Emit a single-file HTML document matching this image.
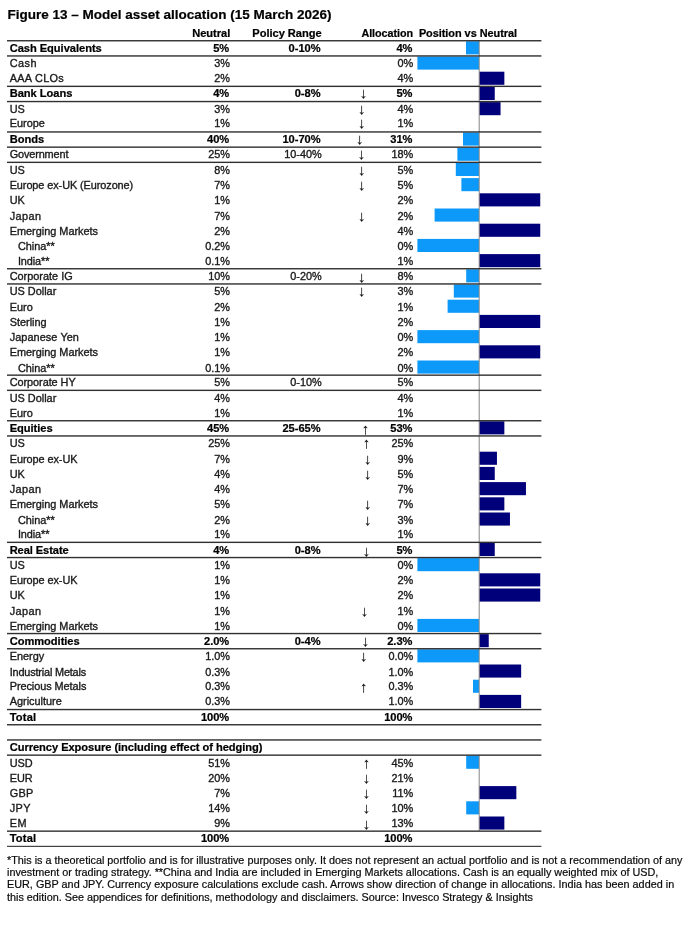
<!DOCTYPE html><html><head><meta charset="utf-8"><title>Figure 13 – Model asset allocation</title><style>
html,body{margin:0;padding:0;background:#fff;}
body{width:699px;height:931px;position:relative;overflow:hidden;filter:blur(0.6px);font-family:"Liberation Sans",sans-serif;color:#000;}
.t{position:absolute;white-space:nowrap;font-size:10.9px;line-height:15.2px;height:15.2px;color:#1a1a1a;-webkit-text-stroke:0.35px #1a1a1a;}
.b{font-weight:bold;font-size:11.1px;color:#000;-webkit-text-stroke:0.22px #000;letter-spacing:-0.03px;}
.r{text-align:right;}
.ar{position:absolute;width:8px;height:16px;font-size:15px;line-height:16px;text-align:center;color:#111;-webkit-text-stroke:0.15px #111;white-space:nowrap;}
.ab{font-weight:bold;}
svg.g{position:absolute;left:0;top:0;}
.title{position:absolute;left:7.4px;top:6.8px;font-size:13.5px;font-weight:bold;-webkit-text-stroke:0.2px #000;line-height:16px;white-space:nowrap;}
.fn{position:absolute;left:7px;font-size:10.82px;line-height:12px;height:12px;white-space:nowrap;color:#0a0a0a;-webkit-text-stroke:0.2px #0a0a0a;}
</style></head><body>
<div class="title">Figure 13 – Model asset allocation (15 March 2026)</div>
<div class="t b r" style="left:130.2px;width:100px;top:25.5px">Neutral</div>
<div class="t b r" style="left:221.6px;width:100px;top:25.5px">Policy Range</div>
<div class="t b r" style="left:313.1px;width:100px;top:25.5px;font-size:10.75px">Allocation</div>
<div class="t b" style="left:418.9px;top:25.5px;font-size:10.9px">Position vs Neutral</div>
<svg class="g" width="699" height="931" viewBox="0 0 699 931">
<rect x="466.0" y="41.30" width="13.0" height="13.1" fill="#0d99fa"/>
<rect x="417.4" y="56.50" width="61.6" height="13.1" fill="#0d99fa"/>
<rect x="479.25" y="71.70" width="25.1" height="13.1" fill="#00007a"/>
<rect x="479.25" y="86.90" width="15.5" height="13.1" fill="#00007a"/>
<rect x="479.25" y="102.10" width="21.3" height="13.1" fill="#00007a"/>
<rect x="463.0" y="132.50" width="16.0" height="13.1" fill="#0d99fa"/>
<rect x="457.4" y="147.70" width="21.6" height="13.1" fill="#0d99fa"/>
<rect x="455.8" y="162.90" width="23.2" height="13.1" fill="#0d99fa"/>
<rect x="461.4" y="178.10" width="17.6" height="13.1" fill="#0d99fa"/>
<rect x="479.25" y="193.30" width="61.0" height="13.1" fill="#00007a"/>
<rect x="434.6" y="208.50" width="44.4" height="13.1" fill="#0d99fa"/>
<rect x="479.25" y="223.70" width="61.0" height="13.1" fill="#00007a"/>
<rect x="417.4" y="238.90" width="61.6" height="13.1" fill="#0d99fa"/>
<rect x="479.25" y="254.10" width="61.0" height="13.1" fill="#00007a"/>
<rect x="466.2" y="269.30" width="12.8" height="13.1" fill="#0d99fa"/>
<rect x="453.8" y="284.50" width="25.2" height="13.1" fill="#0d99fa"/>
<rect x="447.6" y="299.70" width="31.4" height="13.1" fill="#0d99fa"/>
<rect x="479.25" y="314.90" width="61.0" height="13.1" fill="#00007a"/>
<rect x="417.4" y="330.10" width="61.6" height="13.1" fill="#0d99fa"/>
<rect x="479.25" y="345.30" width="61.0" height="13.1" fill="#00007a"/>
<rect x="417.4" y="360.50" width="61.6" height="13.1" fill="#0d99fa"/>
<rect x="479.25" y="421.30" width="25.1" height="13.1" fill="#00007a"/>
<rect x="479.25" y="451.70" width="17.7" height="13.1" fill="#00007a"/>
<rect x="479.25" y="466.90" width="15.5" height="13.1" fill="#00007a"/>
<rect x="479.25" y="482.10" width="46.7" height="13.1" fill="#00007a"/>
<rect x="479.25" y="497.30" width="25.1" height="13.1" fill="#00007a"/>
<rect x="479.25" y="512.50" width="30.7" height="13.1" fill="#00007a"/>
<rect x="479.25" y="542.90" width="15.5" height="13.1" fill="#00007a"/>
<rect x="417.4" y="558.10" width="61.6" height="13.1" fill="#0d99fa"/>
<rect x="479.25" y="573.30" width="61.0" height="13.1" fill="#00007a"/>
<rect x="479.25" y="588.50" width="61.0" height="13.1" fill="#00007a"/>
<rect x="417.4" y="618.90" width="61.6" height="13.1" fill="#0d99fa"/>
<rect x="479.25" y="634.10" width="9.5" height="13.1" fill="#00007a"/>
<rect x="417.4" y="649.30" width="61.6" height="13.1" fill="#0d99fa"/>
<rect x="479.25" y="664.50" width="41.9" height="13.1" fill="#00007a"/>
<rect x="473.0" y="679.70" width="6.0" height="13.1" fill="#0d99fa"/>
<rect x="479.25" y="694.90" width="41.9" height="13.1" fill="#00007a"/>
<rect x="466.2" y="755.70" width="12.8" height="13.1" fill="#0d99fa"/>
<rect x="479.25" y="786.10" width="37.1" height="13.1" fill="#00007a"/>
<rect x="466.2" y="801.30" width="12.8" height="13.1" fill="#0d99fa"/>
<rect x="479.25" y="816.50" width="25.1" height="13.1" fill="#00007a"/>
<rect x="478.7" y="40.5" width="1" height="668.8" fill="#858585"/>
<rect x="478.7" y="754.9" width="1" height="76.0" fill="#858585"/>
<rect x="7.0" y="40.05" width="534.4" height="1.4" fill="#303030"/>
<rect x="7.0" y="55.25" width="534.4" height="1.4" fill="#303030"/>
<rect x="7.0" y="85.65" width="534.4" height="1.4" fill="#303030"/>
<rect x="7.0" y="100.85" width="534.4" height="1.4" fill="#303030"/>
<rect x="7.0" y="131.25" width="534.4" height="1.4" fill="#303030"/>
<rect x="7.0" y="146.45" width="534.4" height="1.4" fill="#303030"/>
<rect x="7.0" y="161.65" width="534.4" height="1.4" fill="#303030"/>
<rect x="7.0" y="268.05" width="534.4" height="1.4" fill="#303030"/>
<rect x="7.0" y="283.25" width="534.4" height="1.4" fill="#303030"/>
<rect x="7.0" y="374.45" width="534.4" height="1.4" fill="#303030"/>
<rect x="7.0" y="389.65" width="534.4" height="1.4" fill="#303030"/>
<rect x="7.0" y="420.05" width="534.4" height="1.4" fill="#303030"/>
<rect x="7.0" y="435.25" width="534.4" height="1.4" fill="#303030"/>
<rect x="7.0" y="541.65" width="534.4" height="1.4" fill="#303030"/>
<rect x="7.0" y="556.85" width="534.4" height="1.4" fill="#303030"/>
<rect x="7.0" y="632.85" width="534.4" height="1.4" fill="#303030"/>
<rect x="7.0" y="648.05" width="534.4" height="1.4" fill="#303030"/>
<rect x="7.0" y="708.85" width="534.4" height="1.4" fill="#303030"/>
<rect x="7.0" y="724.05" width="534.4" height="1.4" fill="#303030"/>
<rect x="7.0" y="739.25" width="534.4" height="1.4" fill="#303030"/>
<rect x="7.0" y="754.45" width="534.4" height="1.4" fill="#303030"/>
<rect x="7.0" y="830.45" width="534.4" height="1.4" fill="#303030"/>
<rect x="7.0" y="845.80" width="534.4" height="1.1" fill="#303030"/>
</svg>
<div class="ar ab" style="left:359.5px;top:85px">↓</div>
<div class="ar" style="left:357.7px;top:101px">↓</div>
<div class="ar" style="left:357.7px;top:115px">↓</div>
<div class="ar ab" style="left:355.8px;top:131px">↓</div>
<div class="ar" style="left:357.5px;top:146px">↓</div>
<div class="ar" style="left:357.7px;top:162px">↓</div>
<div class="ar" style="left:357.7px;top:177px">↓</div>
<div class="ar" style="left:357.7px;top:208px">↓</div>
<div class="ar" style="left:357.7px;top:269px">↓</div>
<div class="ar" style="left:357.7px;top:283px">↓</div>
<div class="ar ab" style="left:361.4px;top:421px">↑</div>
<div class="ar" style="left:362.5px;top:435px">↑</div>
<div class="ar" style="left:363.7px;top:451px">↓</div>
<div class="ar" style="left:363.7px;top:466px">↓</div>
<div class="ar" style="left:363.7px;top:496px">↓</div>
<div class="ar" style="left:363.7px;top:512px">↓</div>
<div class="ar ab" style="left:362.5px;top:543px">↓</div>
<div class="ar" style="left:360.6px;top:603px">↓</div>
<div class="ar ab" style="left:361.4px;top:633px">↓</div>
<div class="ar" style="left:359.8px;top:648px">↓</div>
<div class="ar" style="left:359.8px;top:679px">↑</div>
<div class="ar" style="left:362.5px;top:755px">↑</div>
<div class="ar" style="left:362.5px;top:770px">↓</div>
<div class="ar" style="left:362.5px;top:785px">↓</div>
<div class="ar" style="left:362.5px;top:800px">↓</div>
<div class="ar" style="left:362.5px;top:816px">↓</div>
<div class="t b" style="left:9.7px;top:41.0px">Cash Equivalents</div>
<div class="t b r" style="left:130px;width:99.2px;top:41.0px">5%</div>
<div class="t b r" style="left:221px;width:99.5px;top:41.0px">0-10%</div>
<div class="t b r" style="left:313px;width:99.4px;top:41.0px">4%</div>
<div class="t" style="left:9.7px;top:56.0px;letter-spacing:0.467px">Cash</div>
<div class="t r" style="left:130px;width:100px;top:56.0px">3%</div>
<div class="t r" style="left:313px;width:100.3px;top:56.0px">0%</div>
<div class="t" style="left:9.7px;top:71.0px;letter-spacing:0.286px">AAA CLOs</div>
<div class="t r" style="left:130px;width:100px;top:71.0px">2%</div>
<div class="t r" style="left:313px;width:100.3px;top:71.0px">4%</div>
<div class="t b" style="left:9.7px;top:86.0px">Bank Loans</div>
<div class="t b r" style="left:130px;width:99.2px;top:86.0px">4%</div>
<div class="t b r" style="left:221px;width:99.5px;top:86.0px">0-8%</div>
<div class="t b r" style="left:313px;width:99.4px;top:86.0px">5%</div>
<div class="t" style="left:9.7px;top:102.0px">US</div>
<div class="t r" style="left:130px;width:100px;top:102.0px">3%</div>
<div class="t r" style="left:313px;width:100.3px;top:102.0px">4%</div>
<div class="t" style="left:9.7px;top:116.0px">Europe</div>
<div class="t r" style="left:130px;width:100px;top:116.0px">1%</div>
<div class="t r" style="left:313px;width:100.3px;top:116.0px">1%</div>
<div class="t b" style="left:9.7px;top:132.0px">Bonds</div>
<div class="t b r" style="left:130px;width:99.2px;top:132.0px">40%</div>
<div class="t b r" style="left:221px;width:99.5px;top:132.0px">10-70%</div>
<div class="t b r" style="left:313px;width:99.4px;top:132.0px">31%</div>
<div class="t" style="left:9.7px;top:147.0px;letter-spacing:-0.133px">Government</div>
<div class="t r" style="left:130px;width:100px;top:147.0px">25%</div>
<div class="t r" style="left:221px;width:100.8px;top:147.0px">10-40%</div>
<div class="t r" style="left:313px;width:100.3px;top:147.0px">18%</div>
<div class="t" style="left:9.7px;top:163.0px">US</div>
<div class="t r" style="left:130px;width:100px;top:163.0px">8%</div>
<div class="t r" style="left:313px;width:100.3px;top:163.0px">5%</div>
<div class="t" style="left:9.7px;top:178.0px;letter-spacing:-0.082px">Europe ex-UK (Eurozone)</div>
<div class="t r" style="left:130px;width:100px;top:178.0px">7%</div>
<div class="t r" style="left:313px;width:100.3px;top:178.0px">5%</div>
<div class="t" style="left:9.7px;top:193.0px">UK</div>
<div class="t r" style="left:130px;width:100px;top:193.0px">1%</div>
<div class="t r" style="left:313px;width:100.3px;top:193.0px">2%</div>
<div class="t" style="left:9.7px;top:209.0px;letter-spacing:0.400px">Japan</div>
<div class="t r" style="left:130px;width:100px;top:209.0px">7%</div>
<div class="t r" style="left:313px;width:100.3px;top:209.0px">2%</div>
<div class="t" style="left:9.7px;top:224.0px">Emerging Markets</div>
<div class="t r" style="left:130px;width:100px;top:224.0px">2%</div>
<div class="t r" style="left:313px;width:100.3px;top:224.0px">4%</div>
<div class="t" style="left:17.9px;top:239.0px">China**</div>
<div class="t r" style="left:130px;width:100px;top:239.0px">0.2%</div>
<div class="t r" style="left:313px;width:100.3px;top:239.0px">0%</div>
<div class="t" style="left:17.9px;top:254.0px;letter-spacing:-0.100px">India**</div>
<div class="t r" style="left:130px;width:100px;top:254.0px">0.1%</div>
<div class="t r" style="left:313px;width:100.3px;top:254.0px">1%</div>
<div class="t" style="left:9.7px;top:269.0px">Corporate IG</div>
<div class="t r" style="left:130px;width:100px;top:269.0px">10%</div>
<div class="t r" style="left:221px;width:100.8px;top:269.0px">0-20%</div>
<div class="t r" style="left:313px;width:100.3px;top:269.0px">8%</div>
<div class="t" style="left:9.7px;top:284.0px">US Dollar</div>
<div class="t r" style="left:130px;width:100px;top:284.0px">5%</div>
<div class="t r" style="left:313px;width:100.3px;top:284.0px">3%</div>
<div class="t" style="left:9.7px;top:300.0px">Euro</div>
<div class="t r" style="left:130px;width:100px;top:300.0px">2%</div>
<div class="t r" style="left:313px;width:100.3px;top:300.0px">1%</div>
<div class="t" style="left:9.7px;top:315.0px">Sterling</div>
<div class="t r" style="left:130px;width:100px;top:315.0px">1%</div>
<div class="t r" style="left:313px;width:100.3px;top:315.0px">2%</div>
<div class="t" style="left:9.7px;top:330.0px;letter-spacing:0.073px">Japanese Yen</div>
<div class="t r" style="left:130px;width:100px;top:330.0px">1%</div>
<div class="t r" style="left:313px;width:100.3px;top:330.0px">0%</div>
<div class="t" style="left:9.7px;top:345.0px">Emerging Markets</div>
<div class="t r" style="left:130px;width:100px;top:345.0px">1%</div>
<div class="t r" style="left:313px;width:100.3px;top:345.0px">2%</div>
<div class="t" style="left:17.9px;top:361.0px">China**</div>
<div class="t r" style="left:130px;width:100px;top:361.0px">0.1%</div>
<div class="t r" style="left:313px;width:100.3px;top:361.0px">0%</div>
<div class="t" style="left:9.7px;top:375.0px;letter-spacing:-0.055px">Corporate HY</div>
<div class="t r" style="left:130px;width:100px;top:375.0px">5%</div>
<div class="t r" style="left:221px;width:100.8px;top:375.0px">0-10%</div>
<div class="t r" style="left:313px;width:100.3px;top:375.0px">5%</div>
<div class="t" style="left:9.7px;top:391.0px">US Dollar</div>
<div class="t r" style="left:130px;width:100px;top:391.0px">4%</div>
<div class="t r" style="left:313px;width:100.3px;top:391.0px">4%</div>
<div class="t" style="left:9.7px;top:406.0px">Euro</div>
<div class="t r" style="left:130px;width:100px;top:406.0px">1%</div>
<div class="t r" style="left:313px;width:100.3px;top:406.0px">1%</div>
<div class="t b" style="left:9.7px;top:421.0px">Equities</div>
<div class="t b r" style="left:130px;width:99.2px;top:421.0px">45%</div>
<div class="t b r" style="left:221px;width:99.5px;top:421.0px">25-65%</div>
<div class="t b r" style="left:313px;width:99.4px;top:421.0px">53%</div>
<div class="t" style="left:9.7px;top:436.0px">US</div>
<div class="t r" style="left:130px;width:100px;top:436.0px">25%</div>
<div class="t r" style="left:313px;width:100.3px;top:436.0px">25%</div>
<div class="t" style="left:9.7px;top:452.0px;letter-spacing:-0.055px">Europe ex-UK</div>
<div class="t r" style="left:130px;width:100px;top:452.0px">7%</div>
<div class="t r" style="left:313px;width:100.3px;top:452.0px">9%</div>
<div class="t" style="left:9.7px;top:467.0px">UK</div>
<div class="t r" style="left:130px;width:100px;top:467.0px">4%</div>
<div class="t r" style="left:313px;width:100.3px;top:467.0px">5%</div>
<div class="t" style="left:9.7px;top:482.0px;letter-spacing:0.400px">Japan</div>
<div class="t r" style="left:130px;width:100px;top:482.0px">4%</div>
<div class="t r" style="left:313px;width:100.3px;top:482.0px">7%</div>
<div class="t" style="left:9.7px;top:497.0px">Emerging Markets</div>
<div class="t r" style="left:130px;width:100px;top:497.0px">5%</div>
<div class="t r" style="left:313px;width:100.3px;top:497.0px">7%</div>
<div class="t" style="left:17.9px;top:513.0px">China**</div>
<div class="t r" style="left:130px;width:100px;top:513.0px">2%</div>
<div class="t r" style="left:313px;width:100.3px;top:513.0px">3%</div>
<div class="t" style="left:17.9px;top:527.0px;letter-spacing:-0.100px">India**</div>
<div class="t r" style="left:130px;width:100px;top:527.0px">1%</div>
<div class="t r" style="left:313px;width:100.3px;top:527.0px">1%</div>
<div class="t b" style="left:9.7px;top:543.0px;letter-spacing:-0.080px">Real Estate</div>
<div class="t b r" style="left:130px;width:99.2px;top:543.0px">4%</div>
<div class="t b r" style="left:221px;width:99.5px;top:543.0px">0-8%</div>
<div class="t b r" style="left:313px;width:99.4px;top:543.0px">5%</div>
<div class="t" style="left:9.7px;top:558.0px">US</div>
<div class="t r" style="left:130px;width:100px;top:558.0px">1%</div>
<div class="t r" style="left:313px;width:100.3px;top:558.0px">0%</div>
<div class="t" style="left:9.7px;top:573.0px;letter-spacing:-0.055px">Europe ex-UK</div>
<div class="t r" style="left:130px;width:100px;top:573.0px">1%</div>
<div class="t r" style="left:313px;width:100.3px;top:573.0px">2%</div>
<div class="t" style="left:9.7px;top:588.0px">UK</div>
<div class="t r" style="left:130px;width:100px;top:588.0px">1%</div>
<div class="t r" style="left:313px;width:100.3px;top:588.0px">2%</div>
<div class="t" style="left:9.7px;top:604.0px;letter-spacing:0.400px">Japan</div>
<div class="t r" style="left:130px;width:100px;top:604.0px">1%</div>
<div class="t r" style="left:313px;width:100.3px;top:604.0px">1%</div>
<div class="t" style="left:9.7px;top:619.0px">Emerging Markets</div>
<div class="t r" style="left:130px;width:100px;top:619.0px">1%</div>
<div class="t r" style="left:313px;width:100.3px;top:619.0px">0%</div>
<div class="t b" style="left:9.7px;top:634.0px">Commodities</div>
<div class="t b r" style="left:130px;width:99.2px;top:634.0px">2.0%</div>
<div class="t b r" style="left:221px;width:99.5px;top:634.0px">0-4%</div>
<div class="t b r" style="left:313px;width:99.4px;top:634.0px">2.3%</div>
<div class="t" style="left:9.7px;top:649.0px">Energy</div>
<div class="t r" style="left:130px;width:100px;top:649.0px">1.0%</div>
<div class="t r" style="left:313px;width:100.3px;top:649.0px">0.0%</div>
<div class="t" style="left:9.7px;top:665.0px;letter-spacing:-0.175px">Industrial Metals</div>
<div class="t r" style="left:130px;width:100px;top:665.0px">0.3%</div>
<div class="t r" style="left:313px;width:100.3px;top:665.0px">1.0%</div>
<div class="t" style="left:9.7px;top:679.0px;letter-spacing:-0.057px">Precious Metals</div>
<div class="t r" style="left:130px;width:100px;top:679.0px">0.3%</div>
<div class="t r" style="left:313px;width:100.3px;top:679.0px">0.3%</div>
<div class="t" style="left:9.7px;top:694.0px">Agriculture</div>
<div class="t r" style="left:130px;width:100px;top:694.0px">0.3%</div>
<div class="t r" style="left:313px;width:100.3px;top:694.0px">1.0%</div>
<div class="t b" style="left:9.7px;top:710.0px;letter-spacing:0.200px">Total</div>
<div class="t b r" style="left:130px;width:99.2px;top:710.0px">100%</div>
<div class="t b r" style="left:313px;width:99.4px;top:710.0px">100%</div>
<div class="t b" style="left:9.7px;top:740.0px;letter-spacing:-0.039px">Currency Exposure (including effect of hedging)</div>
<div class="t" style="left:9.7px;top:756.0px">USD</div>
<div class="t r" style="left:130px;width:100px;top:756.0px">51%</div>
<div class="t r" style="left:313px;width:100.3px;top:756.0px">45%</div>
<div class="t" style="left:9.7px;top:771.0px">EUR</div>
<div class="t r" style="left:130px;width:100px;top:771.0px">20%</div>
<div class="t r" style="left:313px;width:100.3px;top:771.0px">21%</div>
<div class="t" style="left:9.7px;top:786.0px;letter-spacing:0.300px">GBP</div>
<div class="t r" style="left:130px;width:100px;top:786.0px">7%</div>
<div class="t r" style="left:313px;width:100.3px;top:786.0px">11%</div>
<div class="t" style="left:9.7px;top:801.0px;letter-spacing:0.400px">JPY</div>
<div class="t r" style="left:130px;width:100px;top:801.0px">14%</div>
<div class="t r" style="left:313px;width:100.3px;top:801.0px">10%</div>
<div class="t" style="left:9.7px;top:816.0px;letter-spacing:0.500px">EM</div>
<div class="t r" style="left:130px;width:100px;top:816.0px">9%</div>
<div class="t r" style="left:313px;width:100.3px;top:816.0px">13%</div>
<div class="t b" style="left:9.7px;top:831.0px;letter-spacing:0.200px">Total</div>
<div class="t b r" style="left:130px;width:99.2px;top:831.0px">100%</div>
<div class="t b r" style="left:313px;width:99.4px;top:831.0px">100%</div>
<div class="fn" style="top:854.10px;letter-spacing:0px">*This is a theoretical portfolio and is for illustrative purposes only. It does not represent an actual portfolio and is not a recommendation of any</div>
<div class="fn" style="top:866.17px;letter-spacing:0px">investment or trading strategy. **China and India are included in Emerging Markets allocations. Cash is an equally weighted mix of USD,</div>
<div class="fn" style="top:878.24px;letter-spacing:0.012px">EUR, GBP and JPY. Currency exposure calculations exclude cash. Arrows show direction of change in allocations. India has been added in</div>
<div class="fn" style="top:890.61px;letter-spacing:0px">this edition. See appendices for definitions, methodology and disclaimers. Source: Invesco Strategy &amp; Insights</div>
</body></html>
